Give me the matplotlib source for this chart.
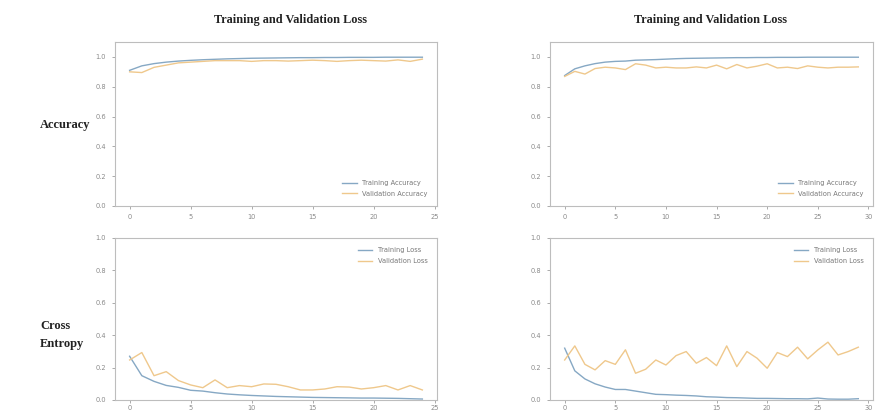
import matplotlib
matplotlib.use("Agg")
import matplotlib.pyplot as plt
import numpy as np

# ---- data ----
epochs_left = list(range(25))
epochs_right = list(range(30))

acc_left = [0.91, 0.94, 0.955, 0.965, 0.972, 0.977, 0.981, 0.984, 0.987, 0.989, 0.991, 0.992,
            0.993, 0.994, 0.995, 0.995, 0.996, 0.996, 0.997, 0.997, 0.997, 0.998, 0.998, 0.998, 0.998]
val_acc_left = [0.90, 0.895, 0.93, 0.945, 0.96, 0.965, 0.97, 0.975, 0.975, 0.975, 0.97, 0.975,
                0.975, 0.972, 0.975, 0.978, 0.975, 0.97, 0.975, 0.978, 0.975, 0.972, 0.98, 0.97, 0.985]

loss_left = [0.27, 0.15, 0.115, 0.09, 0.078, 0.06, 0.055, 0.045, 0.037, 0.032, 0.028, 0.025,
             0.022, 0.02, 0.018, 0.016, 0.015, 0.014, 0.013, 0.012, 0.012, 0.011, 0.01, 0.008, 0.006]
val_loss_left = [0.247, 0.293, 0.15, 0.175, 0.12, 0.093, 0.076, 0.124, 0.076, 0.089, 0.082, 0.099,
                 0.097, 0.082, 0.062, 0.062, 0.068, 0.082, 0.08, 0.068, 0.076, 0.089, 0.062, 0.089, 0.062]

acc_right = [0.875, 0.92, 0.94, 0.955, 0.965, 0.97, 0.972, 0.978, 0.98, 0.982, 0.985, 0.988,
             0.99, 0.991, 0.992, 0.993, 0.994, 0.995, 0.995, 0.996, 0.996, 0.997, 0.997, 0.997,
             0.998, 0.998, 0.998, 0.998, 0.998, 0.998]
val_acc_right = [0.869, 0.903, 0.885, 0.922, 0.931, 0.926, 0.915, 0.954, 0.945, 0.926, 0.931, 0.926,
                 0.926, 0.933, 0.926, 0.945, 0.92, 0.949, 0.926, 0.938, 0.954, 0.926, 0.931, 0.922,
                 0.94, 0.931, 0.926, 0.931, 0.931, 0.933]

loss_right = [0.32, 0.18, 0.13, 0.10, 0.08, 0.065, 0.065, 0.055, 0.045, 0.035, 0.033, 0.03,
              0.028, 0.025, 0.02, 0.018, 0.015, 0.014, 0.012, 0.01, 0.01, 0.009, 0.008, 0.008,
              0.007, 0.012, 0.006, 0.005, 0.005, 0.008]
val_loss_right = [0.247, 0.334, 0.22, 0.186, 0.243, 0.22, 0.31, 0.165, 0.19, 0.247, 0.216, 0.274,
                  0.299, 0.227, 0.262, 0.212, 0.334, 0.206, 0.299, 0.258, 0.196, 0.293, 0.268, 0.326,
                  0.254, 0.309, 0.357, 0.278, 0.299, 0.326]

title_text = "Training and Validation Loss"
acc_labels = ["Training Accuracy", "Validation Accuracy"]
loss_labels = ["Training Loss", "Validation Loss"]
yticks = [0.0, 0.2, 0.4, 0.6, 0.8, 1.0]

# ---- style ----
BLUE = "#86a8c4"
ORANGE = "#efc88c"
TICKC = "#8a8a8a"
SPINEC = "#bdbdbd"

W, H = 881, 412
fig = plt.figure(figsize=(W / 100, H / 100), dpi=100)
fig.patch.set_facecolor("white")


def make_ax(x0, y0, x1, y1):
    return fig.add_axes([x0 / W, 1 - y1 / H, (x1 - x0) / W, (y1 - y0) / H])


def style(ax, xmax_tick, xpad):
    for s in ax.spines.values():
        s.set_color(SPINEC)
        s.set_linewidth(0.8)
    ax.tick_params(labelsize=4.8, colors=TICKC, length=2.5, width=0.5, pad=4)
    ax.tick_params(axis="x", pad=xpad, length=2)
    ax.set_yticks(yticks)
    ax.set_yticklabels([f"{v:.1f}" for v in yticks])
    ax.set_xticks(np.arange(0, xmax_tick + 1, 5))


def plot_panel(ax, x, a, b, labels, ylim, loc, xmax_tick, xpad=4):
    ax.plot(x, a, color=BLUE, lw=1.0, label=labels[0])
    ax.plot(x, b, color=ORANGE, lw=1.0, label=labels[1])
    ax.set_ylim(*ylim)
    ax.margins(x=0.05)
    style(ax, xmax_tick, xpad)
    leg = ax.legend(loc=loc, fontsize=4.8, frameon=False, handlelength=2.2,
                    borderaxespad=1.0, labelspacing=0.7)
    for t in leg.get_texts():
        t.set_color("#777777")


ax_tl = make_ax(115, 42, 437, 206)
plot_panel(ax_tl, epochs_left, acc_left, val_acc_left, acc_labels, (0, 1.1), "lower right", 25)

ax_bl = make_ax(115, 238, 437, 400)
plot_panel(ax_bl, epochs_left, loss_left, val_loss_left, loss_labels, (0, 1.0), "upper right", 25, xpad=1.5)

ax_tr = make_ax(550, 42, 873, 206)
plot_panel(ax_tr, epochs_right, acc_right, val_acc_right, acc_labels, (0, 1.1), "lower right", 30)

ax_br = make_ax(550, 238, 873, 400)
plot_panel(ax_br, epochs_right, loss_right, val_loss_right, loss_labels, (0, 1.0), "upper right", 30, xpad=1.5)

serif = ["Liberation Serif", "DejaVu Serif"]
fig.text(290 / W, 1 - 20 / H, title_text, ha="center", va="center", fontsize=8.8,
         fontweight="bold", family=serif, color="#222222")
fig.text(710 / W, 1 - 20 / H, title_text, ha="center", va="center", fontsize=8.8,
         fontweight="bold", family=serif, color="#222222")
fig.text(40 / W, 1 - 125 / H, "Accuracy", ha="left", va="center", fontsize=9,
         fontweight="bold", family=serif, color="#222222")
fig.text(40 / W, 1 - 335 / H, "Cross\nEntropy", ha="left", va="center", fontsize=9,
         fontweight="bold", family=serif, color="#222222", linespacing=1.6)

fig.savefig("out.png", dpi=100, facecolor="white")
